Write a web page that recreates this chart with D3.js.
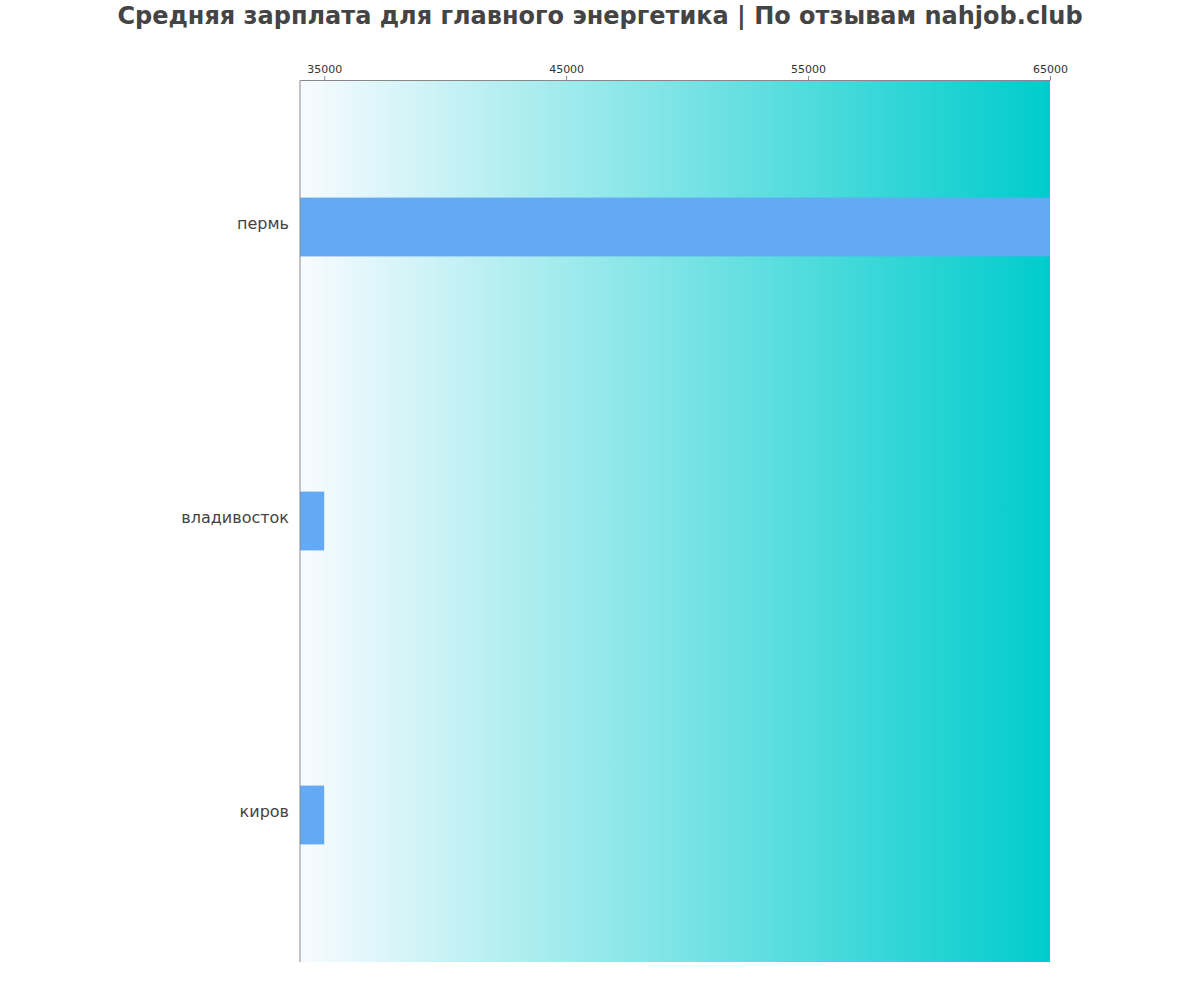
<html>
<head>
    <script src="https://d3js.org/d3.v7.min.js"></script>
    <style>
        body { margin: 0; background: #fff; }
        text { font-family: "DejaVu Sans", sans-serif; }
    </style>
</head>
<body>
    <div id="chart"></div>
    <script type="text/javascript">
        // data
        const cities = ['пермь', 'владивосток', 'киров'];
        const salaries = [65000, 35000, 35000];
        const tickValues = [35000, 45000, 55000, 65000];
        const title = 'Средняя зарплата для главного энергетика | По отзывам nahjob.club';

        const width = 1200, height = 1000;
        const margin = { top: 80, right: 150, bottom: 38, left: 300 };

        const svg = d3.select('#chart').append('svg')
            .attr('width', width)
            .attr('height', height);

        // background gradient of the plot area
        const defs = svg.append('defs');
        const grad = defs.append('linearGradient')
            .attr('id', 'bg')
            .attr('x1', '0%').attr('x2', '100%')
            .attr('y1', '0%').attr('y2', '0%');
        grad.append('stop').attr('offset', '0%').attr('stop-color', '#f8fbff');
        grad.append('stop').attr('offset', '100%').attr('stop-color', '#00cccc');

        const x = d3.scaleLinear()
            .domain([34000, 65000])
            .range([margin.left, width - margin.right]);

        const y = d3.scaleBand()
            .domain(cities)
            .range([margin.top, height - margin.bottom])
            .paddingInner(0.8)
            .paddingOuter(0.4);

        svg.append('rect')
            .attr('x', x.range()[0])
            .attr('y', margin.top)
            .attr('width', x.range()[1] - x.range()[0])
            .attr('height', height - margin.bottom - margin.top)
            .attr('fill', 'url(#bg)');

        // bars
        svg.selectAll('rect.bar')
            .data(cities)
            .enter()
            .append('rect')
            .attr('class', 'bar')
            .attr('x', x(34000))
            .attr('y', d => y(d))
            .attr('width', (d, i) => x(salaries[i]) - x(34000))
            .attr('height', y.bandwidth())
            .attr('fill', '#63a9f4');

        // top axis
        const xAxis = svg.append('g')
            .attr('transform', `translate(0,${margin.top})`)
            .call(d3.axisTop(x).tickValues(tickValues).tickSize(4).tickSizeOuter(0).tickFormat(d3.format('d')));
        xAxis.select('.domain').attr('stroke', '#888');
        xAxis.selectAll('.tick line').attr('stroke', '#888');
        xAxis.selectAll('.tick text')
            .attr('fill', '#333')
            .style('font-size', '11px')
            .style('font-family', '"DejaVu Sans", sans-serif');

        // left axis line
        svg.append('line')
            .attr('x1', margin.left).attr('x2', margin.left)
            .attr('y1', margin.top).attr('y2', height - margin.bottom)
            .attr('stroke', '#888');

        // city labels
        svg.selectAll('text.city')
            .data(cities)
            .enter()
            .append('text')
            .attr('class', 'city')
            .attr('x', margin.left - 11)
            .attr('y', d => y(d) + y.bandwidth() / 2)
            .attr('dy', '0.1em')
            .attr('text-anchor', 'end')
            .attr('fill', '#444')
            .style('font-size', '16px')
            .text(d => d);

        // title
        svg.append('text')
            .attr('x', width / 2)
            .attr('y', 24)
            .attr('text-anchor', 'middle')
            .attr('fill', '#444')
            .style('font-size', '24px')
            .style('font-weight', 'bold')
            .text(title);
    </script>
</body>
</html>
